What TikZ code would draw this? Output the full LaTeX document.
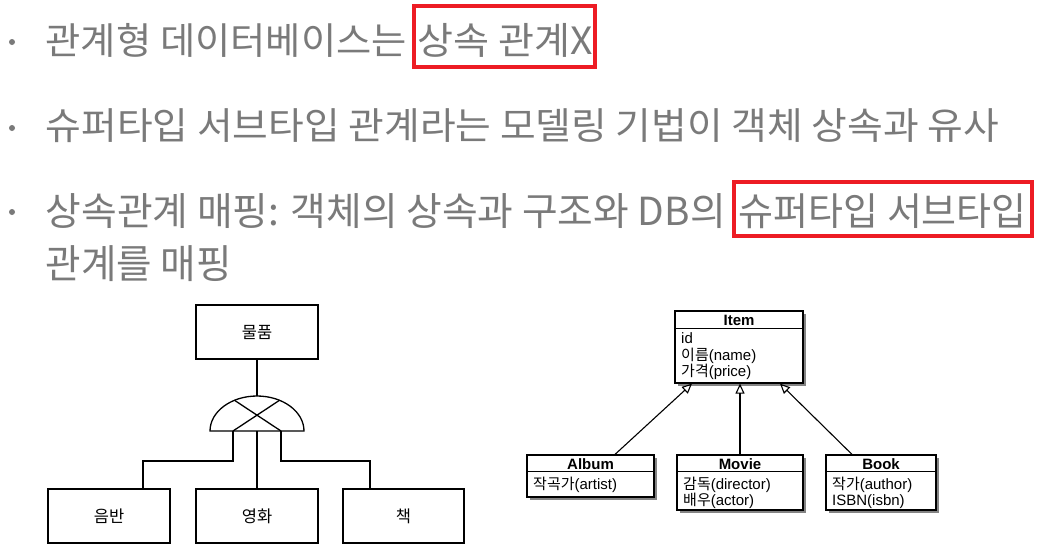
\documentclass[tikz,border=0pt]{standalone}
\usepackage{fontspec}
\usepackage{graphicx}
\setmainfont{Liberation Sans}
\newfontfamily\kr{Noto Sans CJK KR}
\usetikzlibrary{arrows.meta,shadows}
\definecolor{txtgray}{RGB}{122,122,122}
\definecolor{boxred}{RGB}{237,28,36}
\tikzset{
  bigtxt/.style={inner sep=0pt, text=txtgray},
  redbox/.style={draw=boxred, line width=4pt, inner sep=0pt},
  bul/.style={circle, fill=txtgray, inner sep=0pt, minimum size=6pt},
  erbox/.style={draw, line width=1.3pt, inner sep=0pt, font=\kr\fontsize{16.5}{19}\selectfont},
  erline/.style={line width=1.3pt},
  cls/.style={draw, line width=1.2pt, fill=white, inner sep=0pt,
    drop shadow={shadow xshift=2.5pt, shadow yshift=-2.5pt, fill=black!60, opacity=0.8}},
  clshead/.style={inner sep=0pt, font=\bfseries\fontsize{15}{17}\selectfont},
  clsattr/.style={inner sep=0pt, anchor=north west, align=left, font=\fontsize{15}{16.5}\selectfont},
  inh/.style={line width=1.1pt, -{Triangle[open, length=10pt, width=9pt]}}
}
\begin{document}
\begin{tikzpicture}[x=1pt, y=-1pt]
\fill[white] (0,0) rectangle (1039,552);
\useasboundingbox (0,0) rectangle (1039,552);

% bullets
\node[bul] (b1) at (12,42) {};
\node[bul] (b2) at (12,128) {};
\node[bul] (b3) at (12,212) {};

% red boxes
\node[redbox, minimum width=181pt, minimum height=61pt] (r1) at (504.5,36.5) {};
\node[redbox, minimum width=298pt, minimum height=54pt] (r2) at (883,209) {};

% text lines
\node[bigtxt, anchor=south west] (l1a) at (45.5,57.5) {\resizebox*{361pt}{34pt}{\kr 관계형 데이터베이스는}};
\node[bigtxt, anchor=south west] (l1b) at (417.5,57.5) {\resizebox*{175pt}{34pt}{\kr 상속 관계X}};
\node[bigtxt, anchor=south west] (l2) at (45.5,142.5) {\resizebox*{953pt}{34pt}{\kr 슈퍼타입 서브타입 관계라는 모델링 기법이 객체 상속과 유사}};
\node[bigtxt, anchor=south west] (l3a) at (45.5,228.5) {\resizebox*{680pt}{35pt}{\kr 상속관계 매핑: 객체의 상속과 구조와 DB의}};
\node[bigtxt, anchor=south west] (l3b) at (738.5,228.5) {\resizebox*{288pt}{35pt}{\kr 슈퍼타입 서브타입}};
\node[bigtxt, anchor=south west] (l4) at (45.5,281.5) {\resizebox*{186pt}{36pt}{\kr 관계를 매핑}};

% left ER-style diagram
\node[erbox, minimum width=122pt, minimum height=54pt] (goods) at (257,332) {물품};
\node[erbox, minimum width=122pt, minimum height=54pt] (album) at (109,516) {음반};
\node[erbox, minimum width=122pt, minimum height=54pt] (movie) at (257,516) {영화};
\node[erbox, minimum width=121pt, minimum height=54pt] (book) at (403.5,516) {책};

\coordinate (gtop) at (257,396);
\coordinate (gl) at (233,431);
\coordinate (gm) at (257,431);
\coordinate (gr) at (281,431);
\draw[erline] (210,431) arc[start angle=180, end angle=0, x radius=47pt, y radius=35pt] -- cycle;
\draw[erline] (gl) -- (279.5,400.3);
\draw[erline] (gr) -- (234.5,400.3);
\draw[erline] (goods.south) -- (gtop);
\draw[erline] (gl) -- ++(0,30) -| ([xshift=34pt]album.north);
\draw[erline] (gm) -- (movie.north);
\draw[erline] (gr) -- ++(0,30) -| ([xshift=-33.5pt]book.north);

% right class diagram
\node[cls, minimum width=128pt, minimum height=72pt] (item) at (739,347) {};
\node[clshead] (itemh) at (739,320.5) {Item};
\draw[line width=1.2pt] ([yshift=-18pt]item.north west) -- ([yshift=-18pt]item.north east);
\node[clsattr] (itema) at (681,332.5) {id\\{\kr 이름}(name)\\{\kr 가격}(price)};

\node[cls, minimum width=127pt, minimum height=42pt] (calbum) at (590.5,476) {};
\node[clshead] (calbumh) at (590.5,464) {Album};
\draw[line width=1.2pt] ([yshift=-17pt]calbum.north west) -- ([yshift=-17pt]calbum.north east);
\node[clsattr] (calbuma) at (533,476.5) {{\kr 작곡가}(artist)};

\node[cls, minimum width=126pt, minimum height=55pt] (cmovie) at (740,482.5) {};
\node[clshead] (cmovieh) at (740,464) {Movie};
\draw[line width=1.2pt] ([yshift=-17pt]cmovie.north west) -- ([yshift=-17pt]cmovie.north east);
\node[clsattr] (cmoviea) at (683,476.5) {{\kr 감독}(director)\\{\kr 배우}(actor)};

\node[cls, minimum width=110pt, minimum height=55pt] (cbook) at (881,482.5) {};
\node[clshead] (cbookh) at (881,464) {Book};
\draw[line width=1.2pt] ([yshift=-17pt]cbook.north west) -- ([yshift=-17pt]cbook.north east);
\node[clsattr] (cbooka) at (832,476.5) {{\kr 작가}(author)\\ISBN(isbn)};

\draw[inh] ([xshift=24.5pt]calbum.north) -- ([xshift=-47pt]item.south);
\draw[inh] (cmovie.north) -- (cmovie.north |- item.south);
\draw[inh] ([xshift=-29pt]cbook.north) -- ([xshift=41pt]item.south);
\end{tikzpicture}
\end{document}
